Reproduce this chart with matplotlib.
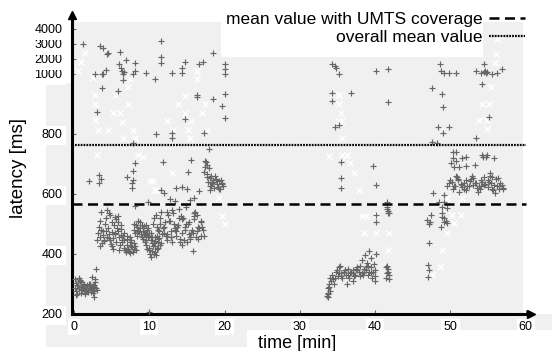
import numpy as np
import matplotlib
matplotlib.use("Agg")
import matplotlib.pyplot as plt
from matplotlib.patches import Rectangle

plt.rcParams['font.family'] = ['Liberation Sans', 'DejaVu Sans']

# ---------------- data (time [min], latency [ms]) ----------------
A_t = [0.1,0.3,0.5,0.7,0.9,1.1,1.3,1.5,1.7,1.9,2.1,2.3,2.5,2.7,2.9,
       0.2,0.4,0.6,0.8,1.0,1.2,1.4,1.6,1.8,2.0,2.2,2.4,2.6,2.8,3.0,
       0.15,0.45,0.75,1.05,1.35,1.65,1.95,2.25,2.55,2.85,
       0.3,0.9,1.5,2.1,2.7,0.6,1.2,2.4,2.7,2.9]
A_v = [288,275,295,282,270,290,284,278,296,272,286,280,292,276,288,
       302,268,284,310,279,294,271,287,281,299,274,283,290,305,280,
       318,296,312,289,300,277,292,286,270,315,
       262,307,266,301,296,320,285,322,258,350]

B_t = [3.2,3.4,3.6,3.8,4.0,4.2,4.4,4.6,4.8,5.0,5.2,5.4,5.6,5.8,6.0,6.2,6.4,6.6,
       3.3,3.7,4.1,4.5,4.9,5.3,5.7,6.1,6.5,
       3.5,3.9,4.3,4.7,5.1,5.5,5.9,6.3,
       3.4,4.0,4.6,5.2,5.8,6.4,
       3.6,4.4,5.0,5.6,6.2,
       3.1,4.8,5.4,6.0]
B_v = [470,455,480,462,448,475,458,468,445,472,452,466,440,478,456,463,447,470,
       490,438,500,485,432,495,488,430,460,
       510,476,520,453,507,470,525,482,
       425,442,535,418,505,440,
       540,545,428,515,498,
       445,530,522,412]

B2_t = [6.6,6.8,7.0,7.2,7.4,7.6,7.8,8.0,6.7,7.1,7.5,7.9,6.9,7.3,7.7,8.1,7.0,7.6,7.4,8.2]
B2_v = [420,412,430,415,440,425,408,418,445,450,455,435,405,410,422,428,460,448,402,412]

C_t = [7.9,8.1,8.3,8.5,8.7,8.9,9.1,9.3,9.5,9.7,8.0,8.4,8.8,9.2,9.6,8.2,8.6,9.0,9.4,9.8,8.5,9.0,9.5,8.3,9.9]
C_v = [480,470,490,475,485,465,478,492,470,480,500,460,505,488,462,495,472,498,467,485,510,455,495,478,470]

D_t = [9.2,9.4,9.6,9.8,10.0,10.2,10.4,10.6,10.8,11.0,11.2,11.4,
       9.3,9.7,10.1,10.5,10.9,11.3,9.5,9.9,10.3,10.7,11.1,9.6,10.2,10.8,10.0,10.6,10.4,11.0]
D_v = [450,440,430,455,420,445,410,435,425,415,440,430,
       465,418,400,428,395,452,470,460,438,405,420,448,390,442,412,400,455,460]

E_t = [10.2,10.5,10.8,11.1,11.4,11.7,12.0,12.3,12.6,12.9,13.2,13.5,13.8,14.1,14.4,14.7,15.0,15.3,15.6,15.9,16.2,16.5,16.8,17.1,
       10.4,10.9,11.4,11.9,12.4,12.9,13.4,13.9,14.4,14.9,15.4,15.9,16.4,16.9,
       10.6,11.2,11.8,12.4,13.0,13.6,14.2,14.8,15.4,16.0,16.6,17.2,
       11.0,11.6,12.2,12.8,13.4,14.0,14.6,15.2,15.8,16.4,17.0,
       11.3,12.1,12.9,13.7,14.5,15.3,16.1,16.9,
       12.5,13.3,14.1,14.9,15.7,16.5,
       11.5,13.0,14.3,15.8]
E_v = [470,500,455,480,520,465,490,445,510,475,535,460,495,450,515,480,440,505,470,525,455,490,460,480,
       445,530,500,470,540,455,485,520,470,500,455,535,475,510,
       520,450,485,465,545,475,525,490,450,515,485,460,
       490,540,460,510,480,550,445,500,470,530,490,
       475,505,455,490,520,465,540,505,
       530,500,440,555,480,450,
       435,440,430,410]

F_t = [17.4,17.6,17.8,18.0,18.2,18.4,18.6,18.8,19.0,19.2,19.4,19.6,19.8,
       17.5,17.9,18.3,18.7,19.1,19.5,17.3,17.7,18.1,18.5,17.6,18.0,18.9,19.3,19.7,17.4,18.2]
F_v = [690,668,640,652,628,645,620,650,633,642,615,638,625,
       705,685,635,660,622,648,672,655,612,640,695,625,645,618,632,710,660]

G_t = [33.6,33.7,33.8,33.9,34.0,34.1,33.7,33.9,34.0,33.8,
       34.3,34.6,34.9,35.2,35.5,35.8,36.1,36.4,36.7,37.0,37.3,37.6,37.9,38.2,38.5,38.8,39.1,39.4,39.7,40.0,
       34.4,34.8,35.2,35.6,36.0,36.4,36.8,37.2,37.6,38.0,38.4,38.8,39.2,39.6,40.0,
       34.5,35.0,35.5,36.0,36.5,37.0,37.5,38.0,38.5,39.0,39.5,40.0,
       38.3,38.6,38.9,39.2,39.5,39.8,40.1,35.3,36.2,37.1,
       41.5,41.6,41.7,41.8,41.6,41.9,41.7,41.5]
G_v = [260,270,285,300,275,310,255,290,320,265,
       330,320,345,335,325,340,330,350,335,345,330,355,340,335,350,345,330,355,340,325,
       315,340,355,320,345,330,340,325,345,360,330,355,340,320,345,
       300,325,335,345,320,335,350,325,340,360,335,310,
       380,395,370,410,385,365,400,360,300,310,
       320,335,350,315,360,330,340,355]

H_t = [49.8,50.2,50.6,51.0,51.4,51.8,52.2,52.6,53.0,53.4,53.8,54.2,54.6,55.0,55.4,55.8,56.2,56.6,57.0,
       50.0,50.5,51.0,51.5,52.0,52.5,53.0,53.5,54.0,54.5,55.0,55.5,56.0,56.5,57.0,
       50.3,50.9,51.5,52.1,52.7,53.3,53.9,54.5,55.1,55.7,56.3,56.9,
       49.6,50.7,51.8,52.9,54.0,55.2,56.4,51.2,53.6,55.9]
H_v = [635,640,628,645,632,638,625,642,630,636,627,640,633,622,638,630,625,635,620,
       648,625,650,622,645,628,652,620,648,630,645,618,650,628,615,
       615,655,630,612,650,635,615,655,640,612,652,630,
       625,660,618,660,625,660,615,605,608,603]

# sparse "+" measurements
S_t = [1.2,3.4,3.8,4.4,4.5,2.8,3.7,3.8,4.2,6.0,6.1,6.2,6.4,6.5,6.6,6.9,7.8,8.1,8.1,9.5,
       11.5,11.5,11.5,13.0,14.4,14.4,14.8,16.6,17.1,18.4,20.0,20.0,20.1,
       34.3,34.7,34.8,35.2,40.1,41.7,48.6,48.7,49.1,49.8,50.7,
       53.4,54.0,54.4,54.7,55.5,56.2,56.8,54.5,54.6,54.8,
       6.5,10.7,3.7,5.8,3.0,10.9,13.0,13.0,14.8,16.3,16.4,17.2,18.4,19.7,20.1,20.1,
       34.3,36.8,34.2,41.7,34.7,35.2,35.5,39.7,
       54.2,47.5,48.9,49.0,55.1,48.3,49.8,49.0,47.5,48.2,50.7,50.7,51.5,52.1,53.4,54.2,54.7,55.8,
       17.9,11.8,15.5,15.2,11.5,11.9,13.6,14.3,15.0,16.6,12.7,13.4,15.4,16.0,
       35.5,35.5,40.1,41.6,41.7,
       2.0,3.3,3.6,3.3,7.0,7.7,7.8,7.7,7.8,8.1,7.8,8.1,9.8,
       40.1,40.1,41.6,41.7,41.9,41.6,
       46.9,47.2,47.2,47.0,47.2,47.0,
       48.5,48.9,48.9,49.1,49.4,49.5,47.7,49.2,47.3,47.4,49.2,49.5,48.9,49.2,48.8,
       50.4,50.4,50.1,50.5,51.2,52.1,53.2,54.3,54.8,55.2,55.5,10.0]
S_v = [3000,2870,2730,2330,2400,1000,1000,1000,1270,1670,2470,1400,1200,1000,1130,1930,1000,1730,1200,1070,
       3200,2130,1730,1070,1400,1070,1800,1670,1800,2400,1670,1330,1000,
       1670,1530,1400,1000,1200,1330,1670,1200,1070,1070,1070,
       1200,1070,1670,1070,1000,1070,1330,1130,1200,1130,
       980,983,953,943,873,800,803,787,850,923,930,803,917,893,933,853,
       937,937,910,907,823,830,707,693,
       967,953,933,890,857,823,823,803,773,770,740,710,720,723,787,730,723,720,
       750,707,713,673,613,603,620,623,617,610,583,577,580,587,
       653,620,630,550,537,
       643,663,650,637,657,637,647,620,677,703,770,560,573,
       530,507,557,543,537,573,
       513,500,437,363,347,323,
       573,557,537,520,510,503,603,597,507,530,573,553,523,507,490,
       740,720,703,690,690,693,697,723,730,670,657,205]

# white "x" measurements
W_t = [1.5,0.9,0.5,2.5,2.8,2.8,2.8,3.2,4.5,5.4,5.2,6.1,6.4,7.2,7.2,7.8,8.1,6.5,7.4,12.3,13.1,13.8,14.7,14.8,15.6,15.1,16.3,16.3,17.0,17.4,17.6,15.4,
       3.0,8.5,9.1,10.1,10.5,13.0,10.7,10.9,19.7,20.1,19.3,
       33.9,36.6,37.2,37.9,35.6,38.3,38.8,38.5,41.9,41.7,41.6,40.1,40.1,
       48.9,48.6,47.5,50.2,51.4,50.5,49.5,
       56.7,56.0,55.9,55.4,54.2,55.1,53.8,54.8,54.8,56.2,
       35.2,35.2,35.5,35.2,35.6,35.6,36.2,49.6,51.5]
W_v = [2400,1800,1200,987,930,900,847,813,813,930,870,870,840,957,900,813,787,787,983,843,813,900,870,927,843,813,1200,983,870,900,813,787,
       730,730,723,643,643,670,613,613,527,500,587,
       727,703,670,613,730,527,527,470,470,413,357,530,470,
       413,357,330,530,530,503,470,
       3530,2330,1730,957,900,900,847,847,817,3330,
       930,900,870,843,843,787,730,587,587]

mean_umts = 567
mean_overall = 763
legend_labels = ["mean value with UMTS coverage", "overall mean value"]
y_ticks = [200, 400, 600, 800, 1000, 2000, 3000, 4000]
x_ticks = [0, 10, 20, 30, 40, 50, 60]

# ---------------- figure ----------------
W, H = 552, 351
fig = plt.figure(figsize=(W / 100, H / 100), dpi=100)

def fx(px):
    return px / W

def fy(py):
    return 1 - py / H

def frect(x0, y0, x1, y1, color, z):
    fig.patches.append(Rectangle((fx(x0), fy(y1)), fx(x1) - fx(x0), fy(y0) - fy(y1),
                                 transform=fig.transFigure, facecolor=color,
                                 edgecolor='none', zorder=z))

gray = '#f0f0f0'
frect(72, 22, 523, 314, gray, -2)
frect(46, 83, 72, 347, gray, -2)
frect(46, 314, 552, 330, gray, -2)
frect(46, 330, 247, 347, gray, -2)

ax = fig.add_axes([fx(72), fy(314), fx(531) - fx(72), fy(15) - fy(314)])
ax.set_facecolor('none')

def fwd(v):
    v = np.asarray(v, dtype=float)
    return np.where(v <= 1000, v, 1000 + (v - 1000) * 0.05)

def inv(f):
    f = np.asarray(f, dtype=float)
    return np.where(f <= 1000, f, 1000 + (f - 1000) / 0.05)

ax.set_yscale('function', functions=(fwd, inv))
ax.set_xlim(-0.27, 60.7)
ax.set_ylim(200, 4930)

plus_kw = dict(linestyle='none', marker='+', ms=4.5, mew=0.85, color='#666666', zorder=3)
for tt, vv in [(A_t, A_v), (B_t, B_v), (B2_t, B2_v), (C_t, C_v), (D_t, D_v),
               (E_t, E_v), (F_t, F_v), (G_t, G_v), (H_t, H_v), (S_t, S_v)]:
    ax.plot(tt, vv, **plus_kw)
ax.plot(W_t, W_v, linestyle='none', marker='x', ms=4, mew=1.0, color='white', zorder=2.5)

l1, = ax.plot([-0.27, 60.0], [mean_umts, mean_umts], color='black', lw=1.8,
              linestyle=(0, (4, 2.2)), zorder=4)
l2, = ax.plot([-0.27, 60.0], [mean_overall, mean_overall], color='black', lw=1.6,
              linestyle=(0, (0.8, 0.5)), zorder=4)

# legend with white box behind text
ax.add_patch(Rectangle((fx(221), fy(57)), fx(483) - fx(221), fy(0) - fy(57),
                       transform=fig.transFigure, facecolor='white', edgecolor='none',
                       zorder=4.5, clip_on=False))
leg = ax.legend([l1, l2], legend_labels, loc='upper right',
                bbox_to_anchor=(fx(525), fy(12)), bbox_transform=fig.transFigure,
                markerfirst=False, frameon=False, fontsize=12.5, handlelength=2.1,
                handletextpad=0.35, labelspacing=0.15, borderpad=0, borderaxespad=0)
leg.set_zorder(5)

# axes styling
for s in ['top', 'right']:
    ax.spines[s].set_visible(False)
for s in ['left', 'bottom']:
    ax.spines[s].set_linewidth(2.2)
    ax.spines[s].set_color('black')
ax.plot(1, 0, marker='>', ms=6, color='black', transform=ax.transAxes, clip_on=False, zorder=6)
ax.plot(0, 1, marker='^', ms=6, color='black', transform=ax.transAxes, clip_on=False, zorder=6)

ax.set_xticks(x_ticks)
ax.set_xticklabels([str(v) for v in x_ticks])
ax.set_yticks(y_ticks)
ax.set_yticklabels([str(v) for v in y_ticks])
ax.yaxis.set_minor_locator(matplotlib.ticker.NullLocator())
ax.tick_params(direction='in', length=3, width=0.8, color='#666666', labelsize=9)
ax.tick_params(axis='y', pad=7)
ax.tick_params(axis='x', pad=5)
for lab in ax.get_yticklabels():
    lab.set_bbox(dict(facecolor='white', edgecolor='none', pad=2.5))
for lab in ax.get_xticklabels():
    lab.set_bbox(dict(facecolor='white', edgecolor='none', pad=1.5))

fig.text(fx(19), fy(168), 'latency [ms]', rotation=90, ha='center', va='center', fontsize=13.5,
         bbox=dict(facecolor='white', edgecolor='none', pad=2))
fig.text(fx(297), fy(343), 'time [min]', ha='center', va='center', fontsize=13)

fig.savefig('out.png', dpi=100)
